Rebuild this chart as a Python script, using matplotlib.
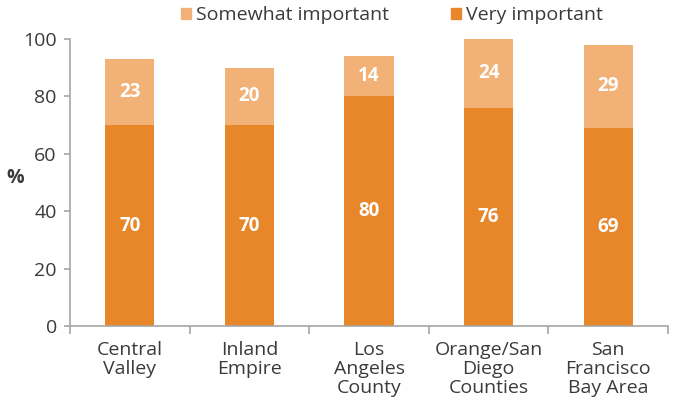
import numpy as np
import matplotlib
matplotlib.use("Agg")
import matplotlib.pyplot as plt
from matplotlib.patches import Patch

plt.rcParams['font.family'] = ['Open Sans', 'DejaVu Sans']

regions = ["Central\nValley", "Inland\nEmpire", "Los\nAngeles\nCounty",
           "Orange/San\nDiego\nCounties", "San\nFrancisco\nBay Area"]
very = [70, 70, 80, 76, 69]
somewhat = [23, 20, 14, 24, 29]

very_color = "#E8862A"
some_color = "#F2B176"
text_color = "#3a3a3a"
axis_color = "#A6A6A6"

fig = plt.figure(figsize=(6.75, 4.08), dpi=100)
# axis box: x 70..668 px, y=0 at 326 px, y=100 at 39 px
ax = fig.add_axes([70 / 675, 1 - 326 / 408, 598 / 675, 287 / 408])

x = np.arange(len(regions))
w = 0.41
ax.bar(x, very, w, color=very_color)
ax.bar(x, somewhat, w, bottom=very, color=some_color)

for i in range(len(regions)):
    ax.text(x[i], very[i] / 2, str(very[i]), ha="center", va="center",
            color="white", fontsize=13.5, fontweight="bold")
    ax.text(x[i], very[i] + somewhat[i] / 2, str(somewhat[i]), ha="center",
            va="center", color="white", fontsize=13.5, fontweight="bold")

ax.set_xlim(-0.5, len(regions) - 0.5)
ax.set_ylim(0, 100)
ax.set_yticks(range(0, 101, 20))
ax.tick_params(axis="y", labelsize=14, colors=axis_color, labelcolor=text_color,
               length=4.5, width=1.2, pad=5)
ax.set_xticks(np.arange(-0.5, len(regions), 1.0))
ax.set_xticklabels([])
ax.tick_params(axis="x", colors=axis_color, length=6, width=1.2)
for i, r in enumerate(regions):
    ax.text(x[i], -5.3, r, ha="center", va="top", fontsize=14,
            color=text_color, linespacing=1.08)

for s in ["top", "right"]:
    ax.spines[s].set_visible(False)
for s in ["left", "bottom"]:
    ax.spines[s].set_color(axis_color)
    ax.spines[s].set_linewidth(1.2)

fig.text(15 / 675, 1 - 178 / 408, "%", fontsize=14, color=text_color,
         fontweight="bold", ha="center", va="center")

handles = [Patch(color=some_color, label="Somewhat important"),
           Patch(color=very_color, label="Very important")]
fig.legend(handles=handles, loc="center", bbox_to_anchor=(392 / 675, 1 - 15 / 408),
           ncol=2, frameon=False, fontsize=14, handlelength=0.5,
           handleheight=0.5, handletextpad=0.25, columnspacing=3.2,
           labelcolor=text_color, borderpad=0)

fig.savefig("out.png", dpi=100)
